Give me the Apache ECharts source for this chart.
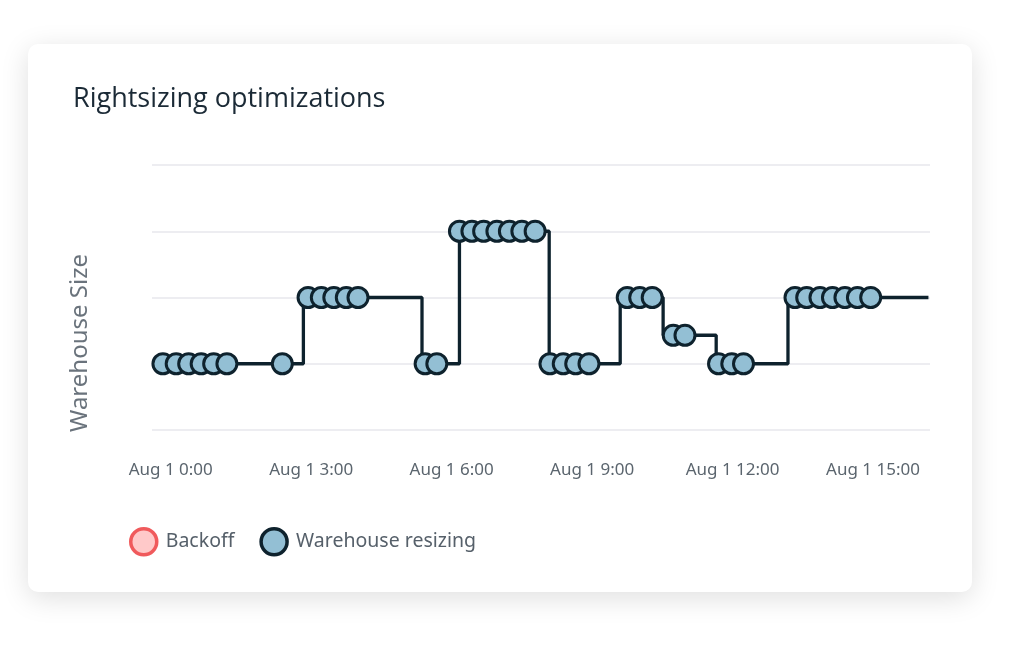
<!DOCTYPE html>
<html>
<head>
<meta charset="utf-8">
<script src="https://cdn.jsdelivr.net/npm/echarts@6/dist/echarts.min.js"></script>
<style>
  html, body { margin: 0; padding: 0; width: 1024px; height: 652px; background: #ffffff; overflow: hidden; }
  #card { position: absolute; left: 28px; top: 44px; width: 944px; height: 548px; background: #fff;
          border-radius: 10px; box-shadow: 0 6px 28px rgba(0,0,0,0.13); }
  #chart { position: absolute; left: 0; top: 0; width: 1024px; height: 652px; }
</style>
</head>
<body>
<div id="card"></div>
<div id="chart"></div>
<script>
// Time in minutes since Aug 1 00:00, warehouse size level
const resizeTimes = [-10, 7, 23, 39, 55, 72, 143, 176, 193, 209, 225, 240, 326, 341,
  370, 386, 401, 418, 434, 450, 467, 486, 503, 519, 536, 585, 601, 617, 644, 659,
  702, 719, 734, 800, 815, 832, 848, 864, 880, 897];
const resizeSizes = [1, 1, 1, 1, 1, 1, 1, 2, 2, 2, 2, 2, 1, 1,
  3, 3, 3, 3, 3, 3, 3, 1, 1, 1, 1, 2, 2, 2, 1.43, 1.43,
  1, 1, 1, 2, 2, 2, 2, 2, 2, 2];
const stepTimes = [-10, 170, 322, 370, 485, 576, 631, 699, 791, 971];
const stepSizes = [1, 2, 1, 3, 1, 2, 1.43, 1, 2, 2];
const backoffTimes = [];
const backoffSizes = [];
const tickMinutes = [0, 180, 360, 540, 720, 900];
const tickLabels = ['Aug 1 0:00', 'Aug 1 3:00', 'Aug 1 6:00', 'Aug 1 9:00', 'Aug 1 12:00', 'Aug 1 15:00'];

const zip = (a, b) => a.map((v, i) => [v, b[i]]);
const chart = echarts.init(document.getElementById('chart'), null, { renderer: 'canvas' });
chart.setOption({
  backgroundColor: 'transparent',
  animation: false,
  title: {
    text: 'Rightsizing optimizations',
    left: 68, top: 81,
    textStyle: { fontFamily: 'Open Sans', fontSize: 27, fontWeight: 'normal', color: '#1b2a36' }
  },
  graphic: [{
    type: 'text', x: 80, y: 343, rotation: Math.PI / 2,
    style: { text: 'Warehouse Size', font: '24px "Noto Sans"', fill: '#6a737c',
             align: 'center', verticalAlign: 'middle' }
  }],
  grid: { left: 152, right: 94, top: 165, bottom: 222 },
  legend: {
    left: 124, top: 522, itemWidth: 26, itemHeight: 26, itemGap: 25,
    icon: 'circle',
    data: ['Backoff', 'Warehouse resizing'],
    itemStyle: { borderWidth: 3.5 },
    textStyle: { fontFamily: 'Noto Sans', fontSize: 19.5, color: '#56606a', padding: [0, 0, 0, 4] }
  },
  xAxis: {
    type: 'value', min: -24, max: 973,
    axisLine: { show: false }, axisTick: { show: false }, splitLine: { show: false },
    axisLabel: {
      customValues: tickMinutes,
      formatter: v => tickLabels[tickMinutes.indexOf(v)],
      margin: 32, fontFamily: 'Noto Sans', fontSize: 17, color: '#5b656e'
    }
  },
  yAxis: {
    type: 'value', min: 0, max: 4, interval: 1,
    axisLine: { show: false }, axisTick: { show: false }, axisLabel: { show: false },
    splitLine: { lineStyle: { color: '#e7e7ec', width: 1.5 } }
  },
  series: [
    {
      type: 'line', name: 'size', step: 'end', data: zip(stepTimes, stepSizes),
      showSymbol: false, symbol: 'none', z: 1,
      lineStyle: { color: '#0e222d', width: 3.3 }
    },
    {
      type: 'scatter', name: 'Backoff', data: zip(backoffTimes, backoffSizes), z: 2,
      itemStyle: { color: '#ffc9c9', borderColor: '#f05a5c', borderWidth: 3, opacity: 1 }
    },
    {
      type: 'scatter', name: 'Warehouse resizing', data: zip(resizeTimes, resizeSizes),
      symbolSize: 20, z: 3,
      itemStyle: { color: '#93bfd4', borderColor: '#0e222d', borderWidth: 3, opacity: 1 }
    }
  ]
});
</script>
</body>
</html>
